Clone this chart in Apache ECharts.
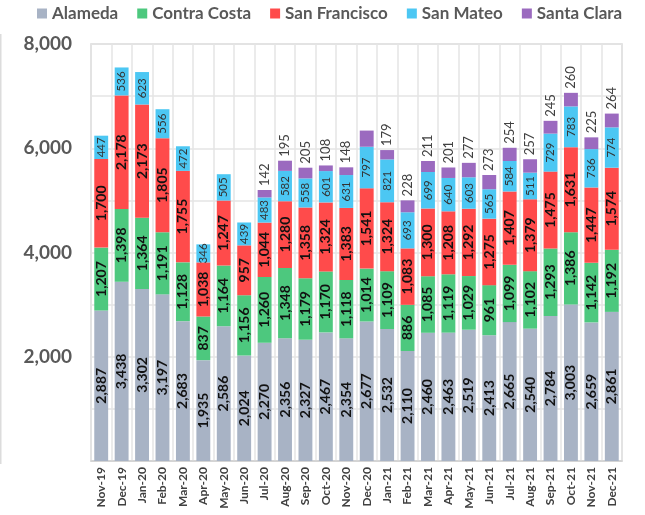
<!DOCTYPE html>
<html>
<head>
<meta charset="utf-8">
<script src="https://cdn.jsdelivr.net/npm/echarts@6/dist/echarts.min.js"></script>
<style>
  html, body { margin: 0; padding: 0; background: #fff; }
  #chart { width: 645px; height: 515px; }
</style>
</head>
<body>
<div id="chart"></div>
<script>
let months = ['Nov-19','Dec-19','Jan-20','Feb-20','Mar-20','Apr-20','May-20','Jun-20','Jul-20','Aug-20','Sep-20','Oct-20','Nov-20',
    'Dec-20','Jan-21','Feb-21','Mar-21','Apr-21','May-21','Jun-21','Jul-21','Aug-21','Sep-21','Oct-21','Nov-21','Dec-21'];

let alameda = [2887,3438,3302,3197,2683,1935,2586,2024,2270,2356,2327,2467,2354,2677,2532,2110,2460,2463,2519,2413,2665,2540,2784,3003,2659,2861];
let contraCosta = [1207,1398,1364,1191,1128,837,1164,1156,1260,1348,1179,1170,1118,1014,1109,886,1085,1119,1029,961,1099,1102,1293,1386,1142,1192];
let sanFrancisco = [1700,2178,2173,1805,1755,1038,1247,957,1044,1280,1358,1324,1383,1541,1324,1083,1300,1208,1292,1275,1407,1379,1475,1631,1447,1574];
let sanMateo = [447,536,623,556,472,346,505,439,483,582,558,601,631,797,821,693,699,640,603,565,584,511,729,783,736,774];
let santaClara = [null,null,null,null,null,null,null,null,142,195,205,108,148,310,179,228,211,201,277,273,254,257,245,260,225,264];
// the reference shows no number on this bar
let santaClaraNoLabel = ['Dec-20'];

let yTicks = [2000, 4000, 6000, 8000];

let font = "Lato, 'Noto Sans', sans-serif";
let fmt = v => v.toLocaleString('en-US');

let insideLabel = (size, bold, color) => ({
    show: true,
    position: 'inside',
    rotate: 90,
    align: 'center',
    verticalAlign: 'middle',
    fontFamily: font,
    fontSize: size,
    fontWeight: bold ? 'bold' : 'normal',
    color: color,
    formatter: p => fmt(p.value)
});

let bar = (name, data, color, label) => ({
    name: name,
    type: 'bar',
    stack: 'total',
    barCategoryGap: '32%',
    itemStyle: { color: color },
    label: label,
    data: data
});

let option = {
    animation: false,
    textStyle: { fontFamily: font },
    color: ['#a8b3c5', '#4dc87e', '#ff4b4b', '#4cc7f3', '#9b6abf'],
    legend: {
        top: 0,
        left: 32,
        itemWidth: 10,
        itemHeight: 10,
        itemGap: 19,
        icon: 'rect',
        textStyle: { fontFamily: font, fontSize: 17, fontWeight: 'bold', color: '#595959' }
    },
    grid: {
        left: 91, right: 23, top: 44, bottom: 54,
        show: true, borderColor: '#d6d6d6', borderWidth: 1.5
    },
    xAxis: {
        type: 'category',
        data: months,
        axisTick: { show: false },
        axisLine: { lineStyle: { color: '#d0d0d0', width: 1.5 } },
        splitLine: { show: true, lineStyle: { color: '#e4e4e4', width: 1.5 } },
        axisLabel: {
            interval: 0, rotate: 90, margin: 6,
            fontFamily: font, fontSize: 12, fontWeight: 'bold', color: '#404040'
        }
    },
    yAxis: {
        type: 'value',
        min: 0, max: 8000, interval: 1000,
        axisLine: { show: false },
        axisTick: { show: false },
        splitLine: { lineStyle: { color: '#e4e4e4', width: 1.5 } },
        axisLabel: {
            margin: 19,
            fontFamily: font, fontSize: 19, fontWeight: 'bold', color: '#595959',
            formatter: v => yTicks.includes(v) ? fmt(v) : ''
        }
    },
    graphic: [{
        type: 'rect',
        shape: { x: 0, y: 34, width: 1.5, height: 430 },
        style: { fill: '#dcdcdc' }
    }],
    series: [
        bar('Alameda', alameda, '#a8b3c5', insideLabel(14, true, '#111')),
        bar('Contra Costa', contraCosta, '#4dc87e', insideLabel(14, true, '#111')),
        bar('San Francisco', sanFrancisco, '#ff4b4b', insideLabel(14, true, '#111')),
        bar('San Mateo', sanMateo, '#4cc7f3', insideLabel(11.5, false, '#333')),
        bar('Santa Clara', santaClara.map((v, i) => ({
            value: v,
            label: { show: v != null && !santaClaraNoLabel.includes(months[i]) }
        })), '#9b6abf', {
            show: true,
            position: 'top',
            rotate: 90,
            align: 'left',
            verticalAlign: 'middle',
            distance: 4,
            fontFamily: font,
            fontSize: 13,
            color: '#404040',
            formatter: p => fmt(p.value)
        })
    ]
};

let myChart = echarts.init(document.getElementById('chart'));
myChart.setOption(option);
</script>
</body>
</html>
